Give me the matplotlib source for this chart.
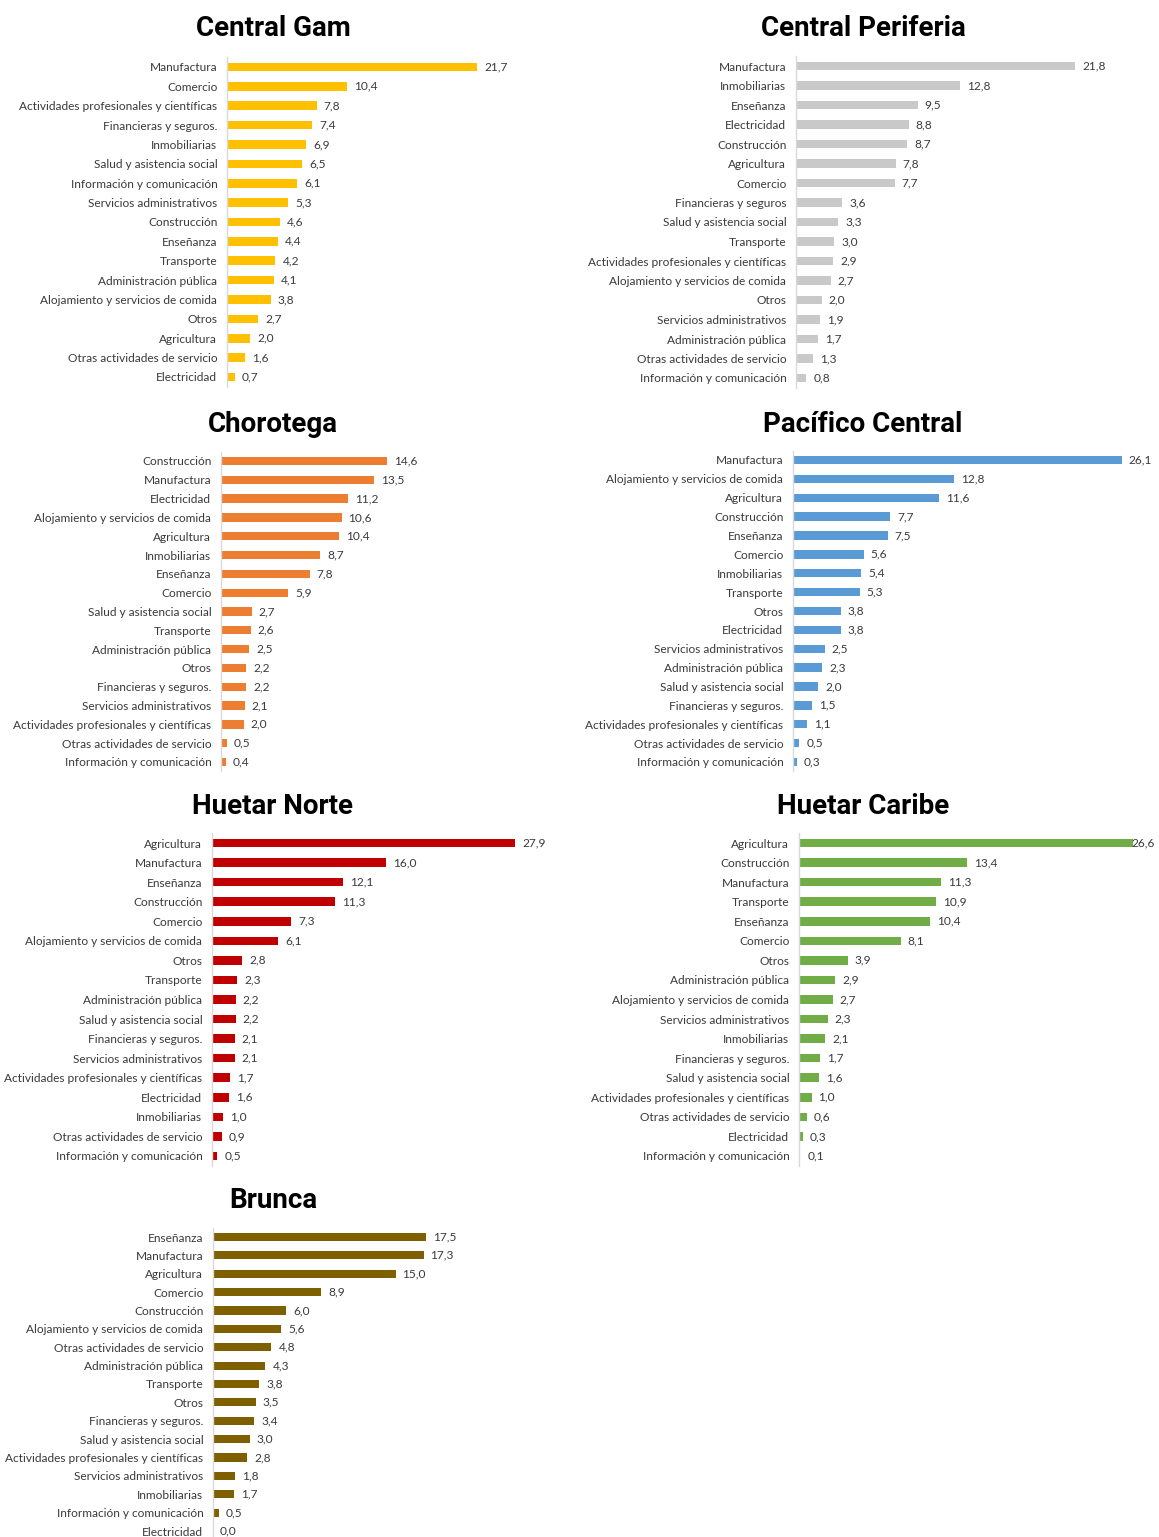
import matplotlib
matplotlib.use("Agg")
import matplotlib.pyplot as plt

W, H = 1159, 1537

# ---------------- data ----------------
gam_cats = ["Manufactura", "Comercio", "Actividades profesionales y científicas",
            "Financieras y seguros.", "Inmobiliarias", "Salud y asistencia social",
            "Información y comunicación", "Servicios administrativos", "Construcción",
            "Enseñanza", "Transporte", "Administración pública",
            "Alojamiento y servicios de comida", "Otros", "Agricultura",
            "Otras actividades de servicio", "Electricidad"]
gam_vals = [21.7, 10.4, 7.8, 7.4, 6.9, 6.5, 6.1, 5.3, 4.6, 4.4, 4.2, 4.1, 3.8, 2.7, 2.0, 1.6, 0.7]

per_cats = ["Manufactura", "Inmobiliarias", "Enseñanza", "Electricidad", "Construcción",
            "Agricultura", "Comercio", "Financieras y seguros", "Salud y asistencia social",
            "Transporte", "Actividades profesionales y científicas",
            "Alojamiento y servicios de comida", "Otros", "Servicios administrativos",
            "Administración pública", "Otras actividades de servicio",
            "Información y comunicación"]
per_vals = [21.8, 12.8, 9.5, 8.8, 8.7, 7.8, 7.7, 3.6, 3.3, 3.0, 2.9, 2.7, 2.0, 1.9, 1.7, 1.3, 0.8]

cho_cats = ["Construcción", "Manufactura", "Electricidad", "Alojamiento y servicios de comida",
            "Agricultura", "Inmobiliarias", "Enseñanza", "Comercio",
            "Salud y asistencia social", "Transporte", "Administración pública", "Otros",
            "Financieras y seguros.", "Servicios administrativos",
            "Actividades profesionales y científicas", "Otras actividades de servicio",
            "Información y comunicación"]
cho_vals = [14.6, 13.5, 11.2, 10.6, 10.4, 8.7, 7.8, 5.9, 2.7, 2.6, 2.5, 2.2, 2.2, 2.1, 2.0, 0.5, 0.4]

pac_cats = ["Manufactura", "Alojamiento y servicios de comida", "Agricultura", "Construcción",
            "Enseñanza", "Comercio", "Inmobiliarias", "Transporte", "Otros", "Electricidad",
            "Servicios administrativos", "Administración pública", "Salud y asistencia social",
            "Financieras y seguros.", "Actividades profesionales y científicas",
            "Otras actividades de servicio", "Información y comunicación"]
pac_vals = [26.1, 12.8, 11.6, 7.7, 7.5, 5.6, 5.4, 5.3, 3.8, 3.8, 2.5, 2.3, 2.0, 1.5, 1.1, 0.5, 0.3]

hno_cats = ["Agricultura", "Manufactura", "Enseñanza", "Construcción", "Comercio",
            "Alojamiento y servicios de comida", "Otros", "Transporte",
            "Administración pública", "Salud y asistencia social", "Financieras y seguros.",
            "Servicios administrativos", "Actividades profesionales y científicas",
            "Electricidad", "Inmobiliarias", "Otras actividades de servicio",
            "Información y comunicación"]
hno_vals = [27.9, 16.0, 12.1, 11.3, 7.3, 6.1, 2.8, 2.3, 2.2, 2.2, 2.1, 2.1, 1.7, 1.6, 1.0, 0.9, 0.5]

hca_cats = ["Agricultura", "Construcción", "Manufactura", "Transporte", "Enseñanza", "Comercio",
            "Otros", "Administración pública", "Alojamiento y servicios de comida",
            "Servicios administrativos", "Inmobiliarias", "Financieras y seguros.",
            "Salud y asistencia social", "Actividades profesionales y científicas",
            "Otras actividades de servicio", "Electricidad", "Información y comunicación"]
hca_vals = [26.6, 13.4, 11.3, 10.9, 10.4, 8.1, 3.9, 2.9, 2.7, 2.3, 2.1, 1.7, 1.6, 1.0, 0.6, 0.3, 0.1]

bru_cats = ["Enseñanza", "Manufactura", "Agricultura", "Comercio", "Construcción",
            "Alojamiento y servicios de comida", "Otras actividades de servicio",
            "Administración pública", "Transporte", "Otros", "Financieras y seguros.",
            "Salud y asistencia social", "Actividades profesionales y científicas",
            "Servicios administrativos", "Inmobiliarias", "Información y comunicación",
            "Electricidad"]
bru_vals = [17.5, 17.3, 15.0, 8.9, 6.0, 5.6, 4.8, 4.3, 3.8, 3.5, 3.4, 3.0, 2.8, 1.8, 1.7, 0.5, 0.0]

titles = ["Central Gam", "Central Periferia", "Chorotega", "Pacífico Central",
          "Huetar Norte", "Huetar Caribe", "Brunca"]

# ---------------- layout (pixels) ----------------
# (title, cats, vals, color, axis_x, px_per_unit, first_y, last_y, title_x, title_y)
panels = [
    (titles[0], gam_cats, gam_vals, "#FFC000", 227, 11.52, 67, 377, 273, 29),
    (titles[1], per_cats, per_vals, "#C9C9C9", 796, 12.80, 66, 378, 863, 29),
    (titles[2], cho_cats, cho_vals, "#ED7D31", 221, 11.37, 461, 762, 273, 424),
    (titles[3], pac_cats, pac_vals, "#5B9BD5", 793, 12.60, 460, 762, 863, 424),
    (titles[4], hno_cats, hno_vals, "#C00000", 212, 10.86, 843, 1156, 273, 806),
    (titles[5], hca_cats, hca_vals, "#70AD47", 799, 12.56, 843, 1156, 863, 806),
    (titles[6], bru_cats, bru_vals, "#7F6000", 213, 12.17, 1237, 1531, 273, 1201),
]

fig = plt.figure(figsize=(W / 100, H / 100), dpi=100)
fig.patch.set_facecolor("white")

LABEL_FONT = ["Lato", "DejaVu Sans"]
TITLE_FONT = ["Roboto", "DejaVu Sans"]
LFS = 8.6

for (title, cats, vals, color, ax_x, ppu, y0, y1, tx, ty) in panels:
    n = len(cats)
    sp = (y1 - y0) / (n - 1)
    top = y0 - sp / 2
    bottom = y1 + sp / 2
    width_px = 345
    ax = fig.add_axes([ax_x / W, 1 - bottom / H, width_px / W, (bottom - top) / H])
    ax.set_xlim(0, width_px / ppu)
    ax.set_ylim(n - 0.5, -0.5)
    ypos = list(range(n))
    ax.barh(ypos, vals, height=0.44, color=color, zorder=2)
    ax.set_yticks(ypos)
    ax.set_yticklabels(cats, fontsize=LFS, family=LABEL_FONT, color="#3A3A3A")
    ax.tick_params(axis="y", length=0, pad=7)
    ax.set_xticks([])
    for s in ["top", "right", "bottom"]:
        ax.spines[s].set_visible(False)
    ax.spines["left"].set_color("#D9D9D9")
    ax.spines["left"].set_linewidth(1.0)
    ax.patch.set_alpha(0)
    for i, v in enumerate(vals):
        lx = ax_x + v * ppu + 7
        if lx + 26 > W:
            lx = ax_x + v * ppu - 2
        ax.text((lx - ax_x) / ppu, i, f"{v:.1f}".replace(".", ","), va="center", ha="left",
                fontsize=LFS, family=LABEL_FONT, color="#3A3A3A", clip_on=False)
    fig.text(tx / W, 1 - ty / H, title, ha="center", va="center", fontsize=20,
             fontweight="bold", family=TITLE_FONT, color="black")

fig.savefig("out.png", dpi=100, facecolor="white")
